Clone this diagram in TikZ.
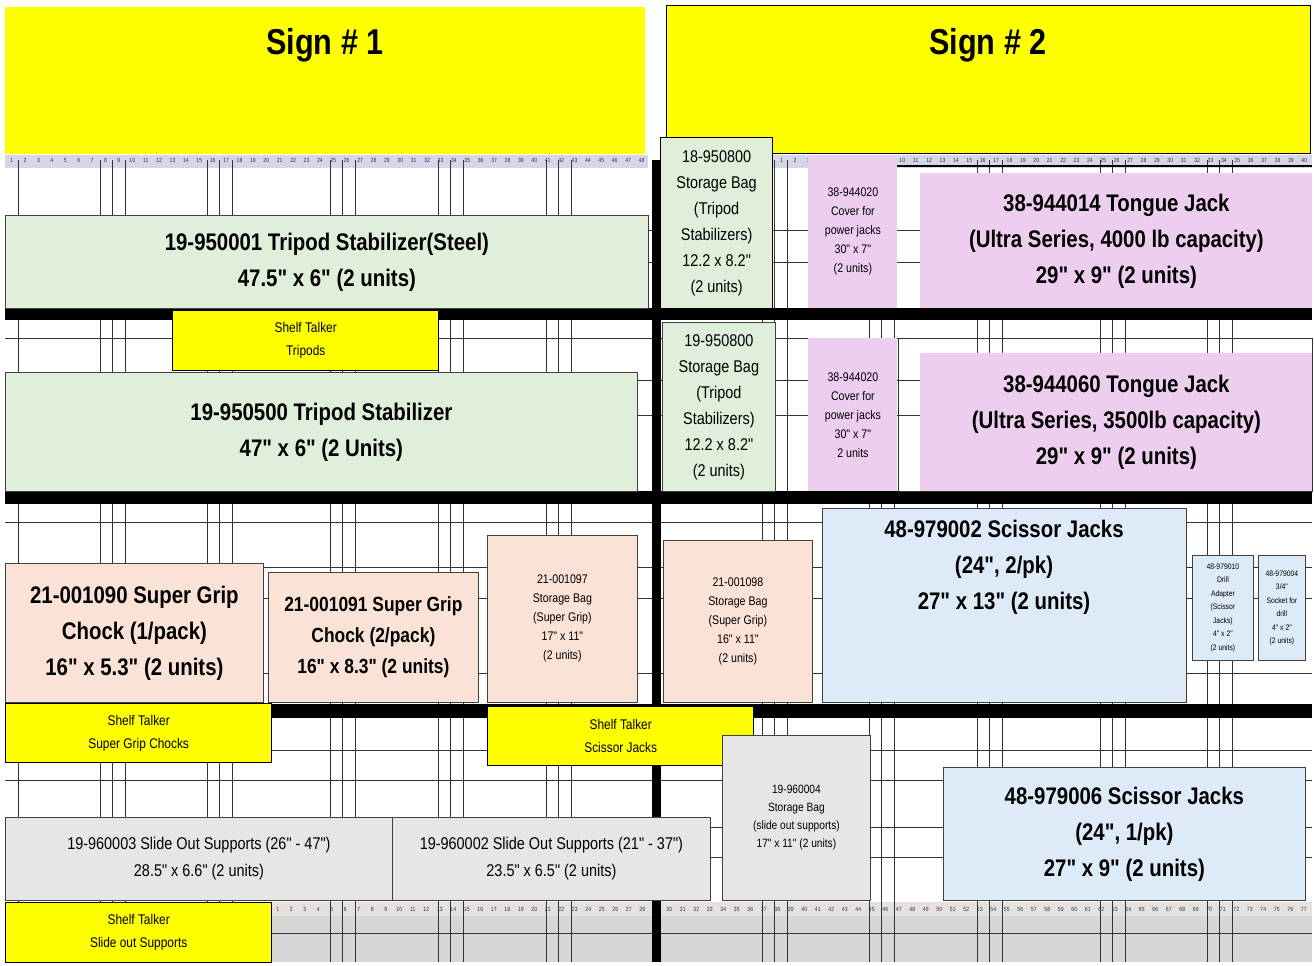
\documentclass[tikz,border=0pt]{standalone}
\usepackage{fontspec}
\setmainfont{Liberation Sans}[FakeStretch=0.85, Ligatures=TeXOff]
\usetikzlibrary{positioning}

\definecolor{signYellow}{RGB}{255,255,0}
\definecolor{tripodGreen}{RGB}{224,239,217}
\definecolor{jackPink}{RGB}{238,206,238}
\definecolor{chockPeach}{RGB}{250,226,214}
\definecolor{scissorBlue}{RGB}{221,234,247}
\definecolor{slideGray}{RGB}{230,230,230}
\definecolor{rulerLilac}{RGB}{214,214,232}
\definecolor{rulerBeige}{RGB}{229,225,222}
\definecolor{bandGray}{RGB}{214,214,214}

\begin{document}
\begin{tikzpicture}[x={(1pt,0)}, y={(0,-1pt)},
    planBox/.style={draw=black!75, line width=0.8pt, anchor=north west, inner sep=0pt, align=center, text=black},
    tripodBox/.style={planBox, fill=tripodGreen},
    jackBox/.style={planBox, fill=jackPink},
    chockBox/.style={planBox, fill=chockPeach},
    scissorBox/.style={planBox, fill=scissorBlue},
    slideBox/.style={planBox, fill=slideGray},
    talkerBox/.style={planBox, fill=signYellow, draw=black, line width=1.4pt, font=\fontsize{14}{23}\selectfont},
    signBox/.style={anchor=north west, fill=signYellow, inner sep=0pt},
    signTxt/.style={anchor=base, inner sep=0pt, font=\fontsize{36}{40}\selectfont\bfseries},
    bigTxt/.style={font=\fontsize{24}{36}\selectfont\bfseries},
    midTxt/.style={font=\fontsize{20.5}{31}\selectfont\bfseries},
    slideTxt/.style={font=\fontsize{17}{27}\selectfont},
    bagTxt/.style={font=\fontsize{17}{26}\selectfont},
    smallTxt/.style={font=\fontsize{12.5}{19}\selectfont},
    tinyTxt/.style={font=\fontsize{8}{13.5}\selectfont},
    gridLine/.style={black!80, line width=0.7pt},
    shelfBar/.style={fill=black},
    rulerNum/.style={font=\fontsize{6}{6}\selectfont, inner sep=0pt, text=black!80}]

    \useasboundingbox (0,0) rectangle (1314,966);
    \fill[white] (0,0) rectangle (1314,966);

    % signs
    \node[signBox, minimum width=640pt, minimum height=147pt] (sign1) at (5,7) {};
    \node[signBox, draw=black, line width=1.2pt, minimum width=644pt, minimum height=148pt] (sign2) at (666,5) {};
    \node[signTxt] (sign1Txt) at (325,55) {Sign \# 1};
    \node[signTxt] (sign2Txt) at (988,55) {Sign \# 2};

    % rulers and bottom band
    \fill[rulerLilac] (5,155) rectangle (648,168);
    \fill[rulerLilac] (772,155) rectangle (1312,168);
    \fill[rulerBeige] (271,902) rectangle (1312,916);
    \fill[bandGray] (271,916) rectangle (1312,962);

    % peg grid
    \foreach \gx in {100,207,330,438,546,762,869,977,1100,1207}
        \foreach \dx in {0,12.7,25.4}
            \draw[gridLine] (\gx+\dx,160) -- (\gx+\dx,962);
    \draw[gridLine] (18,160) -- (18,962);
    \foreach \gy in {230,262,338,380,415,522,567,598,673,750,780,827,857,933}
        \draw[gridLine] (5,\gy) -- (1312,\gy);

    \foreach \n in {1,...,48}
        \node[rulerNum] (rulerA\n) at ({5+(\n-0.5)*13.4},160) {\n};
    \foreach \n in {1,...,40}
        \node[rulerNum] (rulerB\n) at ({775+(\n-0.5)*13.4},160) {\n};
    \foreach \n in {1,...,77}
        \node[rulerNum] (rulerC\n) at ({271+(\n-0.5)*13.5},909) {\n};
    \draw[line width=2pt] (863,166) -- (1312,166);

    % shelves
    \fill[shelfBar] (5,308) rectangle (1312,320);
    \fill[shelfBar] (5,491) rectangle (1312,504);
    \fill[shelfBar] (5,704) rectangle (1312,718);
    \fill[shelfBar] (652,160) rectangle (661,962);

    % shelf 1
    \node[tripodBox, bigTxt, minimum width=643pt, minimum height=93pt] (tripodSteel) at (5,215) {19-950001 Tripod Stabilizer(Steel)\\47.5" x 6" (2 units)};
    \node[tripodBox, bagTxt, line width=1.2pt, draw=black, minimum width=112pt, minimum height=171pt] (bagTop) at (660,137) {18-950800\\Storage Bag\\(Tripod\\Stabilizers)\\12.2 x 8.2"\\(2 units)};
    \node[jackBox, smallTxt, draw=none, minimum width=89pt, minimum height=153pt] (coverTop) at (808,155) {38-944020\\Cover for\\power jacks\\30" x 7"\\(2 units)};
    \node[jackBox, bigTxt, draw=none, minimum width=392pt, minimum height=135pt] (tongueA) at (920,173) {38-944014 Tongue Jack\\(Ultra Series, 4000 lb capacity)\\29" x 9" (2 units)};

    % shelf 2
    \node[talkerBox, minimum width=266pt, minimum height=60pt] (talkerTripod) at (172,310) {Shelf Talker\\Tripods};
    \node[tripodBox, bigTxt, minimum width=632pt, minimum height=119pt] (tripodPlain) at (5,372) {19-950500 Tripod Stabilizer\\47" x 6" (2 Units)};
    \node[tripodBox, bagTxt, minimum width=113pt, minimum height=169pt] (bagMid) at (662,322) {19-950800\\Storage Bag\\(Tripod\\Stabilizers)\\12.2 x 8.2"\\(2 units)};
    \node[jackBox, smallTxt, draw=none, minimum width=89pt, minimum height=153pt] (coverMid) at (808,338) {38-944020\\Cover for\\power jacks\\30" x 7"\\2 units};
    \draw[black!80, line width=0.8pt] (898,338) rectangle (1312,491);
    \node[jackBox, bigTxt, draw=none, minimum width=392pt, minimum height=138pt] (tongueB) at (920,353) {38-944060 Tongue Jack\\(Ultra Series, 3500lb capacity)\\29" x 9" (2 units)};

    % shelf 3
    \node[chockBox, bigTxt, minimum width=258pt, minimum height=139pt] (chockOne) at (5,563) {21-001090 Super Grip\\Chock (1/pack)\\16" x 5.3" (2 units)};
    \node[chockBox, midTxt, minimum width=210pt, minimum height=130pt] (chockTwo) at (268,572) {21-001091 Super Grip\\Chock (2/pack)\\16" x 8.3" (2 units)};
    \node[chockBox, smallTxt, minimum width=150pt, minimum height=167pt] (chockBagA) at (487,535) {21-001097\\Storage Bag\\(Super Grip)\\17" x 11"\\(2 units)};
    \node[chockBox, smallTxt, minimum width=149pt, minimum height=162pt] (chockBagB) at (663,540) {21-001098\\Storage Bag\\(Super Grip)\\16" x 11"\\(2 units)};
    \node[scissorBox, minimum width=364pt, minimum height=194pt] (scissorA) at (822,508) {};
    \node[bigTxt, align=center, inner sep=0pt] (scissorATxt) at (1004,567) {48-979002 Scissor Jacks\\(24", 2/pk)\\27" x 13" (2 units)};
    \node[scissorBox, tinyTxt, minimum width=61pt, minimum height=105pt] (smallA) at (1192,555) {48-979010\\Drill\\Adapter\\(Scissor\\Jacks)\\4" x 2"\\(2 units)};
    \node[scissorBox, tinyTxt, minimum width=47pt, minimum height=105pt] (smallB) at (1258,555) {48-979004\\3/4"\\Socket for\\drill\\4" x 2"\\(2 units)};

    % shelf 4
    \node[talkerBox, minimum width=266pt, minimum height=59pt] (talkerChock) at (5,703) {Shelf Talker\\Super Grip Chocks};
    \node[talkerBox, minimum width=266pt, minimum height=59pt] (talkerScissor) at (487,706) {Shelf Talker\\Scissor Jacks};
    \node[slideBox, font=\fontsize{12}{18}\selectfont, minimum width=148pt, minimum height=165pt] (slideBag) at (722,735) {19-960004\\Storage Bag\\(slide out supports)\\17" x 11" (2 units)};
    \node[slideBox, slideTxt, minimum width=387pt, minimum height=83pt] (slideOne) at (5,817) {19-960003 Slide Out Supports (26" - 47")\\28.5" x 6.6" (2 units)};
    \node[slideBox, slideTxt, minimum width=318pt, minimum height=83pt] (slideTwo) at (392,817) {19-960002 Slide Out Supports (21" - 37")\\23.5" x 6.5" (2 units)};
    \node[scissorBox, bigTxt, minimum width=362pt, minimum height=133pt] (scissorB) at (943,767) {48-979006 Scissor Jacks\\(24", 1/pk)\\27" x 9" (2 units)};
    \node[talkerBox, minimum width=266pt, minimum height=60pt] (talkerSlide) at (5,902) {Shelf Talker\\Slide out Supports};
\end{tikzpicture}
\end{document}
